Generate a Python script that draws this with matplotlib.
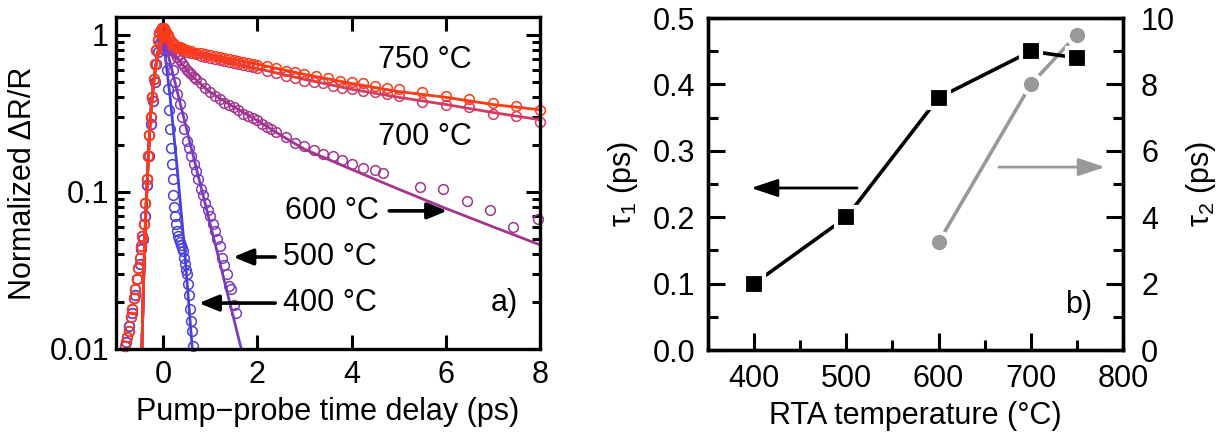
import matplotlib
matplotlib.use('Agg')
import matplotlib.pyplot as plt
from matplotlib.ticker import FixedLocator, MultipleLocator, NullFormatter, NullLocator

plt.rcParams['font.family'] = ['Liberation Sans', 'DejaVu Sans']
plt.rcParams['mathtext.fontset'] = 'custom'
plt.rcParams['mathtext.rm'] = 'Liberation Sans'
plt.rcParams['mathtext.default'] = 'regular'

# ---------------- panel a) data (read from the picture) ----------------
# shared rising edge of the circles
rise_t_blue = [-0.78, -0.72, -0.66, -0.60, -0.55, -0.50, -0.46, -0.42, -0.38, -0.34,
               -0.30, -0.26, -0.22, -0.18, -0.14, -0.10, -0.06, -0.03, 0.00]
rise_y_blue = [0.011, 0.014, 0.017, 0.022, 0.028, 0.035, 0.043, 0.050, 0.070, 0.11,
               0.17, 0.27, 0.38, 0.50, 0.65, 0.78, 0.88, 0.93, 0.95]
rise_t_red = [-0.80, -0.76, -0.72, -0.68, -0.65, -0.62, -0.59, -0.56, -0.53, -0.50,
              -0.47, -0.44, -0.41, -0.38, -0.35, -0.32, -0.29, -0.26, -0.23, -0.20,
              -0.17, -0.14, -0.11, -0.08, -0.05, -0.02]
rise_y_red = [0.0105, 0.012, 0.013, 0.016, 0.018, 0.021, 0.024, 0.028, 0.033, 0.038,
              0.045, 0.052, 0.062, 0.085, 0.12, 0.17, 0.23, 0.30, 0.40, 0.52,
              0.65, 0.80, 0.92, 1.02, 1.08, 1.10]
# shared rising edge of the fit lines
fit_rise_t = [-0.45, -0.41, -0.37, -0.32, -0.27, -0.20, -0.12, -0.05]
fit_rise_y = [0.01, 0.03, 0.07, 0.15, 0.30, 0.50, 0.75, 0.93]

t400 = [0.05, 0.08, 0.10, 0.12, 0.14, 0.16, 0.18, 0.20, 0.22, 0.24, 0.26, 0.28, 0.30,
        0.32, 0.34, 0.36, 0.38, 0.40, 0.42, 0.44, 0.46, 0.48, 0.50, 0.53, 0.56, 0.58,
        0.60, 0.62, 0.64]
y400 = [0.80, 0.60, 0.45, 0.33, 0.25, 0.19, 0.15, 0.12, 0.095, 0.08, 0.07, 0.062, 0.056,
        0.052, 0.050, 0.048, 0.046, 0.044, 0.042, 0.038, 0.035, 0.032, 0.030, 0.026, 0.022,
        0.018, 0.015, 0.013, 0.0105]
fit400_t = [0.0, 0.15, 0.30, 0.45, 0.62]
fit400_y = [0.95, 0.40, 0.14, 0.045, 0.01]

t500 = [0.05, 0.10, 0.15, 0.20, 0.25, 0.30, 0.35, 0.40, 0.45, 0.50, 0.55, 0.60, 0.65,
        0.70, 0.75, 0.80, 0.85, 0.90, 0.95, 1.00, 1.05, 1.10, 1.15, 1.20, 1.25, 1.30,
        1.35, 1.40, 1.45, 1.50, 1.55]
y500 = [0.90, 0.80, 0.70, 0.60, 0.50, 0.42, 0.36, 0.30, 0.25, 0.21, 0.19, 0.17, 0.15,
        0.135, 0.12, 0.105, 0.095, 0.085, 0.077, 0.070, 0.062, 0.056, 0.050, 0.045, 0.038,
        0.034, 0.030, 0.025, 0.024, 0.019, 0.017]
fit500_t = [0.02, 1.66]
fit500_y = [0.95, 0.01]

t600 = [0.05, 0.10, 0.15, 0.20, 0.25, 0.30, 0.35, 0.40, 0.45, 0.50, 0.55, 0.60, 0.65,
        0.70, 0.80, 0.90, 1.00, 1.10, 1.20, 1.30, 1.40, 1.50, 1.60, 1.70, 1.80, 1.90,
        2.00, 2.10, 2.20, 2.30, 2.40, 2.60, 2.80, 3.00, 3.20, 3.40, 3.60, 3.80, 4.00,
        4.25, 4.50, 4.67, 5.46, 5.95, 6.45, 6.94, 7.43, 7.96]
y600 = [0.95, 0.90, 0.85, 0.80, 0.76, 0.72, 0.69, 0.66, 0.63, 0.60, 0.58, 0.56, 0.54,
        0.52, 0.49, 0.46, 0.43, 0.41, 0.39, 0.37, 0.355, 0.345, 0.33, 0.315, 0.305, 0.295,
        0.285, 0.27, 0.26, 0.25, 0.24, 0.225, 0.205, 0.195, 0.185, 0.175, 0.17, 0.16, 0.15,
        0.142, 0.137, 0.132, 0.107, 0.104, 0.088, 0.077, 0.060, 0.067]
fit600_t = [0.0, 0.3, 0.6, 1.0, 1.5, 2.0, 2.5, 3.0, 4.0, 5.0, 6.0, 7.0, 8.0]
fit600_y = [0.95, 0.71, 0.55, 0.43, 0.347, 0.285, 0.229, 0.187, 0.139, 0.104, 0.0785,
            0.060, 0.046]

t700 = [0.02, 0.05, 0.10, 0.20, 0.30, 0.40, 0.50, 0.60, 0.70, 0.80, 0.90, 1.00, 1.10,
        1.20, 1.30, 1.40, 1.50, 1.60, 1.70, 1.80, 1.90, 2.00, 2.20, 2.40, 2.60, 2.80,
        3.00, 3.20, 3.40, 3.60, 3.80, 4.00, 4.25, 4.50, 4.75, 5.00, 5.50, 6.00, 6.50,
        7.00, 7.50, 8.00]
y700 = [1.05, 1.02, 0.98, 0.86, 0.82, 0.80, 0.78, 0.76, 0.75, 0.73, 0.72, 0.71, 0.70,
        0.69, 0.68, 0.67, 0.66, 0.65, 0.64, 0.63, 0.62, 0.61, 0.59, 0.57, 0.55, 0.53,
        0.51, 0.50, 0.49, 0.47, 0.46, 0.45, 0.44, 0.43, 0.42, 0.41, 0.375, 0.355, 0.345,
        0.315, 0.305, 0.28]
fit700_t = [0.0, 0.1, 0.2, 0.4, 0.7, 1.0, 2.0, 3.0, 4.0, 5.0, 6.0, 7.0, 8.0]
fit700_y = [0.95, 0.90, 0.84, 0.79, 0.75, 0.72, 0.61, 0.52, 0.45, 0.40, 0.36, 0.32, 0.288]

t750 = [0.01, 0.04, 0.07, 0.10, 0.13, 0.16, 0.20, 0.25, 0.30, 0.35, 0.40, 0.45, 0.50,
        0.60, 0.70, 0.80, 0.90, 1.00, 1.10, 1.20, 1.30, 1.40, 1.50, 1.60, 1.70, 1.80,
        1.90, 2.00, 2.20, 2.40, 2.60, 2.80, 3.00, 3.25, 3.50, 3.75, 4.00, 4.25, 4.50,
        4.75, 5.00, 5.50, 6.00, 6.50, 7.00, 7.50, 8.00]
y750 = [1.10, 1.08, 1.04, 1.00, 0.95, 0.91, 0.88, 0.86, 0.84, 0.83, 0.82, 0.81, 0.80,
        0.79, 0.77, 0.76, 0.75, 0.74, 0.73, 0.72, 0.71, 0.70, 0.69, 0.68, 0.675, 0.665,
        0.655, 0.645, 0.63, 0.61, 0.59, 0.58, 0.56, 0.55, 0.53, 0.51, 0.50, 0.49, 0.47,
        0.46, 0.45, 0.43, 0.41, 0.39, 0.37, 0.35, 0.33]
fit750_t = [0.0, 0.1, 0.2, 0.4, 0.7, 1.0, 2.0, 3.0, 4.0, 5.0, 6.0, 7.0, 8.0]
fit750_y = [1.00, 0.95, 0.88, 0.82, 0.77, 0.74, 0.65, 0.56, 0.49, 0.435, 0.40, 0.36, 0.333]

colors_a = ['#4a40dc', '#7b3cbf', '#a2358f', '#d23c62', '#ff3a14']

# ---------------- panel b) data ----------------
rta_t1 = [400, 500, 600, 700, 750]
tau1 = [0.10, 0.20, 0.38, 0.45, 0.44]
rta_t2 = [600, 700, 750]
tau2 = [3.25, 8.0, 9.5]

FS = 22

fig = plt.figure(figsize=(12.17, 4.44), dpi=100)
ax1 = fig.add_axes([0.0953, 0.214, 0.3484, 0.748])
ax2 = fig.add_axes([0.5818, 0.2117, 0.341, 0.7477])

series = [
    (rise_t_blue + t400, rise_y_blue + y400, fit_rise_t + fit400_t, fit_rise_y + fit400_y),
    (rise_t_blue + t500, rise_y_blue + y500, fit_rise_t + fit500_t, fit_rise_y + fit500_y),
    (rise_t_red + t600, rise_y_red + y600, fit_rise_t + fit600_t, fit_rise_y + fit600_y),
    (rise_t_red + t700, rise_y_red + y700, fit_rise_t + fit700_t, fit_rise_y + fit700_y),
    (rise_t_red + t750, rise_y_red + y750, fit_rise_t + fit750_t, fit_rise_y + fit750_y),
]
for (tx, ty, ft, fy), c in zip(series, colors_a):
    ax1.plot(tx, ty, 'o', mfc='none', mec=c, ms=7, mew=1.1, clip_on=False)
    ax1.plot(ft, fy, '-', color=c, lw=2.0)

ax1.set_yscale('log')
ax1.set_xlim(-1.0, 8.0)
ax1.set_ylim(0.01, 1.3)
ax1.xaxis.set_major_locator(FixedLocator([0, 2, 4, 6, 8]))
ax1.xaxis.set_minor_locator(NullLocator())
ax1.yaxis.set_major_locator(FixedLocator([0.01, 0.1, 1]))
ax1.set_yticklabels(['0.01', '0.1', '1'])
ax1.yaxis.set_minor_formatter(NullFormatter())
ax1.tick_params(which='both', direction='in', top=True, right=True, width=2.2,
                labelsize=FS, colors='black')
ax1.tick_params(which='major', length=10)
ax1.tick_params(which='minor', length=6)
ax1.tick_params(axis='x', pad=8)
ax1.tick_params(axis='y', pad=5)
for s in ax1.spines.values():
    s.set_linewidth(2.4)
ax1.set_xlabel('Pump\u2212probe time delay (ps)', fontsize=FS, labelpad=5)
ax1.set_ylabel('Normalized \u0394R/R', fontsize=FS, labelpad=8)

ax1.text(5.56, 0.69, '750 \u00b0C', fontsize=FS, ha='center', va='center')
ax1.text(5.56, 0.224, '700 \u00b0C', fontsize=FS, ha='center', va='center')
ax1.text(3.59, 0.0757, '600 \u00b0C', fontsize=FS, ha='center', va='center')
ax1.text(3.55, 0.0385, '500 \u00b0C', fontsize=FS, ha='center', va='center')
ax1.text(3.55, 0.0196, '400 \u00b0C', fontsize=FS, ha='center', va='center')
ax1.text(7.24, 0.0196, 'a)', fontsize=FS, ha='center', va='center')
arw = dict(arrowstyle='-|>,head_length=0.85,head_width=0.35', color='black', lw=2.6,
           shrinkA=0, shrinkB=0, mutation_scale=14)
ax1.annotate('', xy=(6.03, 0.0757), xytext=(4.80, 0.0757), arrowprops=arw)
ax1.annotate('', xy=(1.49, 0.0385), xytext=(2.38, 0.0385), arrowprops=arw)
ax1.annotate('', xy=(0.76, 0.0196), xytext=(2.38, 0.0196), arrowprops=arw)

# panel b
ax3 = ax2.twinx()
ax2.plot(rta_t1, tau1, '-s', color='black', lw=2.6, ms=15, mfc='black', mec='white',
         mew=3, zorder=3)
ax3.plot(rta_t2, tau2, '-o', color='#999999', lw=2.6, ms=14, mfc='#999999', mec='white',
         mew=3, zorder=2)
ax2.set_zorder(ax3.get_zorder() + 1)
ax2.patch.set_visible(False)

ax2.set_xlim(350, 800)
ax2.set_ylim(0.0, 0.5)
ax3.set_ylim(0, 10)
ax2.xaxis.set_major_locator(MultipleLocator(100))
ax2.xaxis.set_minor_locator(MultipleLocator(50))
ax2.yaxis.set_major_locator(MultipleLocator(0.1))
ax2.yaxis.set_minor_locator(MultipleLocator(0.05))
ax3.yaxis.set_major_locator(MultipleLocator(2))
ax3.yaxis.set_minor_locator(MultipleLocator(1))
ax2.yaxis.set_major_formatter(plt.FormatStrFormatter('%.1f'))
for a in (ax2, ax3):
    a.tick_params(which='both', direction='in', width=2.2, labelsize=FS)
    a.tick_params(which='major', length=12)
    a.tick_params(which='minor', length=7)
    for s in a.spines.values():
        s.set_linewidth(2.4)
ax2.tick_params(axis='x', pad=10)
ax2.tick_params(axis='y', pad=9)
ax3.tick_params(axis='y', pad=13)
ax2.set_xlabel('RTA temperature (\u00b0C)', fontsize=FS, labelpad=5)
ax2.set_ylabel('\u03c4$_1$ (ps)', fontsize=FS, labelpad=9)
ax3.set_ylabel('\u03c4$_2$ (ps)', fontsize=FS, labelpad=6)

ax2.annotate('', xy=(396.6, 0.244), xytext=(511.6, 0.244),
             arrowprops=dict(arrowstyle='-|>,head_length=0.9,head_width=0.3', color='black',
                             lw=2, shrinkA=0, shrinkB=0, mutation_scale=18))
ax3.annotate('', xy=(780.5, 5.51), xytext=(665.5, 5.51),
             arrowprops=dict(arrowstyle='-|>,head_length=0.9,head_width=0.3', color='#999999',
                             lw=2, shrinkA=0, shrinkB=0, mutation_scale=18))
ax2.text(752, 0.068, 'b)', fontsize=FS, ha='center', va='center')

fig.savefig('out.png', dpi=100)
